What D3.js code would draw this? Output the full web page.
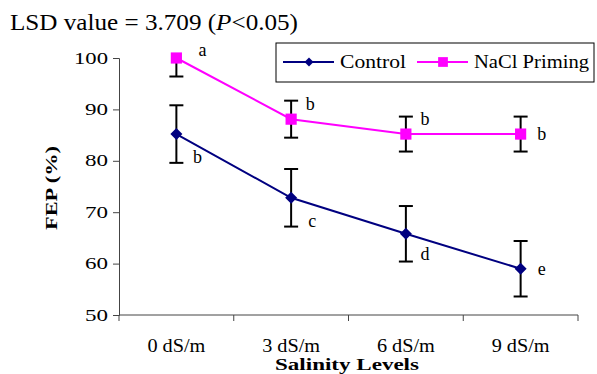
<!DOCTYPE html>
<html>
<head>
<meta charset="utf-8">
<script src="https://cdn.jsdelivr.net/npm/d3@7"></script>
</head>
<body style="margin:0;background:#fff">
<svg id="chart" width="597" height="374" font-family="Liberation Serif, Times New Roman, serif"></svg>
<script>
// Salinity treatments and germination (FEP %) per priming treatment
const categories = ["0 dS/m", "3 dS/m", "6 dS/m", "9 dS/m"];
const controlValues = [85.2, 72.8, 65.8, 59.0];
const controlErrors = [5.6, 5.6, 5.4, 5.4];
const controlLetters = ["b", "c", "d", "e"];
const primingValues = [100.0, 88.1, 85.2, 85.2];
const primingErrors = [3.6, 3.6, 3.4, 3.4];
const primingLetters = ["a", "b", "b", "b"];
const yTicks = [50, 60, 70, 80, 90, 100];
const seriesNames = ["Control", "NaCl Priming"];

const SERIF = "Liberation Serif, Times New Roman, serif";
const svg = d3.select("#chart");
const margin = { left: 119, right: 19, top: 58, bottom: 59 };
const W = 597, H = 374;
const x = d3.scaleBand().domain(categories).range([margin.left, W - margin.right]);
const y = d3.scaleLinear().domain([50, 100]).range([H - margin.bottom, margin.top]);
const cx = c => x(c) + x.bandwidth() / 2;

// Text in this face is set slightly wide; stretch a label to a given width
function wide(sel, w) {
  return sel.attr("textLength", w).attr("lengthAdjust", "spacingAndGlyphs");
}

// Title
const title = svg.append("text").attr("x", 10).attr("y", 30).attr("font-size", 23);
wide(title, 288);
title.append("tspan").text("LSD value = 3.709 (");
title.append("tspan").attr("font-style", "italic").text("P");
title.append("tspan").text("<0.05)");

// Y axis
const yAxis = svg.append("g").attr("transform", `translate(${margin.left},0)`)
  .call(d3.axisLeft(y).tickValues(yTicks).tickSize(6).tickPadding(5));
yAxis.attr("font-family", SERIF);
yAxis.selectAll("text").attr("font-size", 16)
  .each(function (d) { wide(d3.select(this), d >= 100 ? 34 : 23); });
yAxis.select(".domain").attr("stroke", "#444");
yAxis.selectAll(".tick line").attr("stroke", "#444");

// X axis: ticks at category boundaries
const xg = svg.append("g").attr("transform", `translate(0,${y(50)})`);
xg.append("line").attr("x1", margin.left).attr("x2", W - margin.right)
  .attr("stroke", "#444");
const bounds = categories.map(c => x(c)).concat([x(categories[categories.length - 1]) + x.bandwidth()]);
xg.selectAll("line.tk").data(bounds).join("line").attr("class", "tk")
  .attr("x1", d => d).attr("x2", d => d).attr("y1", 0).attr("y2", 6).attr("stroke", "#444");
wide(xg.selectAll("text").data(categories).join("text")
  .attr("x", d => cx(d)).attr("y", 37).attr("text-anchor", "middle")
  .attr("font-size", 18).text(d => d), 58);

// Axis titles
wide(svg.append("text").attr("x", 347).attr("y", 370)
  .attr("text-anchor", "middle").attr("font-size", 17).attr("font-weight", "bold")
  .text("Salinity Levels"), 144);
wide(svg.append("text").attr("transform", `translate(57,188) rotate(-90)`)
  .attr("text-anchor", "middle").attr("font-size", 17).attr("font-weight", "bold")
  .text("FEP (%)"), 84);

// Clip for the plotting area
svg.append("clipPath").attr("id", "plot").append("rect")
  .attr("x", margin.left).attr("y", y(100)).attr("width", W - margin.left - margin.right)
  .attr("height", y(50) - y(100));

function drawSeries(values, errors, color, symbol, size, angle) {
  const pts = categories.map((c, i) => ({ c, v: values[i], e: errors[i] }));
  const g = svg.append("g");
  const eb = g.append("g").attr("clip-path", "url(#plot)");
  pts.forEach(p => {
    const xx = cx(p.c);
    eb.append("line").attr("x1", xx).attr("x2", xx).attr("y1", y(p.v + p.e)).attr("y2", y(p.v - p.e))
      .attr("stroke", "#000").attr("stroke-width", 2);
    [p.v + p.e, p.v - p.e].forEach(v => eb.append("line").attr("x1", xx - 7).attr("x2", xx + 7)
      .attr("y1", y(v)).attr("y2", y(v)).attr("stroke", "#000").attr("stroke-width", 2));
  });
  g.append("path").datum(pts)
    .attr("d", d3.line().x(p => cx(p.c)).y(p => y(p.v)))
    .attr("fill", "none").attr("stroke", color).attr("stroke-width", 2);
  g.selectAll("path.m").data(pts).join("path").attr("class", "m")
    .attr("transform", p => `translate(${cx(p.c)},${y(p.v)}) rotate(${angle})`)
    .attr("d", d3.symbol().type(symbol).size(size)).attr("fill", color);
}

drawSeries(primingValues, primingErrors, "#ff00ff", d3.symbolSquare, 125, 0);
drawSeries(controlValues, controlErrors, "#000080", d3.symbolSquare, 72, 45);

// Significance letters
const letterOffsets = {
  priming: [[26, -7], [19, -14], [19, -14], [21, 1]],
  control: [[21, 24], [21, 24], [19, 21], [21, 1]]
};
categories.forEach((c, i) => {
  const [dx, dy] = letterOffsets.priming[i];
  svg.append("text").attr("x", cx(c) + dx).attr("y", y(primingValues[i]) + dy + 5)
    .attr("font-size", 18).attr("text-anchor", "middle").text(primingLetters[i]);
  const [ex, ey] = letterOffsets.control[i];
  svg.append("text").attr("x", cx(c) + ex).attr("y", y(controlValues[i]) + ey + 5)
    .attr("font-size", 18).attr("text-anchor", "middle").text(controlLetters[i]);
});

// Legend
const lg = svg.append("g");
lg.append("rect").attr("x", 276).attr("y", 43).attr("width", 318).attr("height", 39)
  .attr("fill", "#fff").attr("stroke", "#000").attr("stroke-width", 1);
const legendItems = [
  { name: seriesNames[0], color: "#000080", sym: d3.symbolSquare, x: 283, size: 40, angle: 45, w: 66 },
  { name: seriesNames[1], color: "#ff00ff", sym: d3.symbolSquare, x: 417, size: 95, angle: 0, w: 115 }
];
legendItems.forEach(it => {
  lg.append("line").attr("x1", it.x).attr("x2", it.x + 51).attr("y1", 62).attr("y2", 62)
    .attr("stroke", it.color).attr("stroke-width", 2);
  lg.append("path").attr("transform", `translate(${it.x + 26},62) rotate(${it.angle})`)
    .attr("d", d3.symbol().type(it.sym).size(it.size)).attr("fill", it.color);
  wide(lg.append("text").attr("x", it.x + 57).attr("y", 68).attr("font-size", 18)
    .text(it.name), it.w);
});

// Serif face for every label
svg.selectAll("text").attr("font-family", SERIF).style("font-family", SERIF).attr("fill", "#000");
</script>
</body>
</html>
